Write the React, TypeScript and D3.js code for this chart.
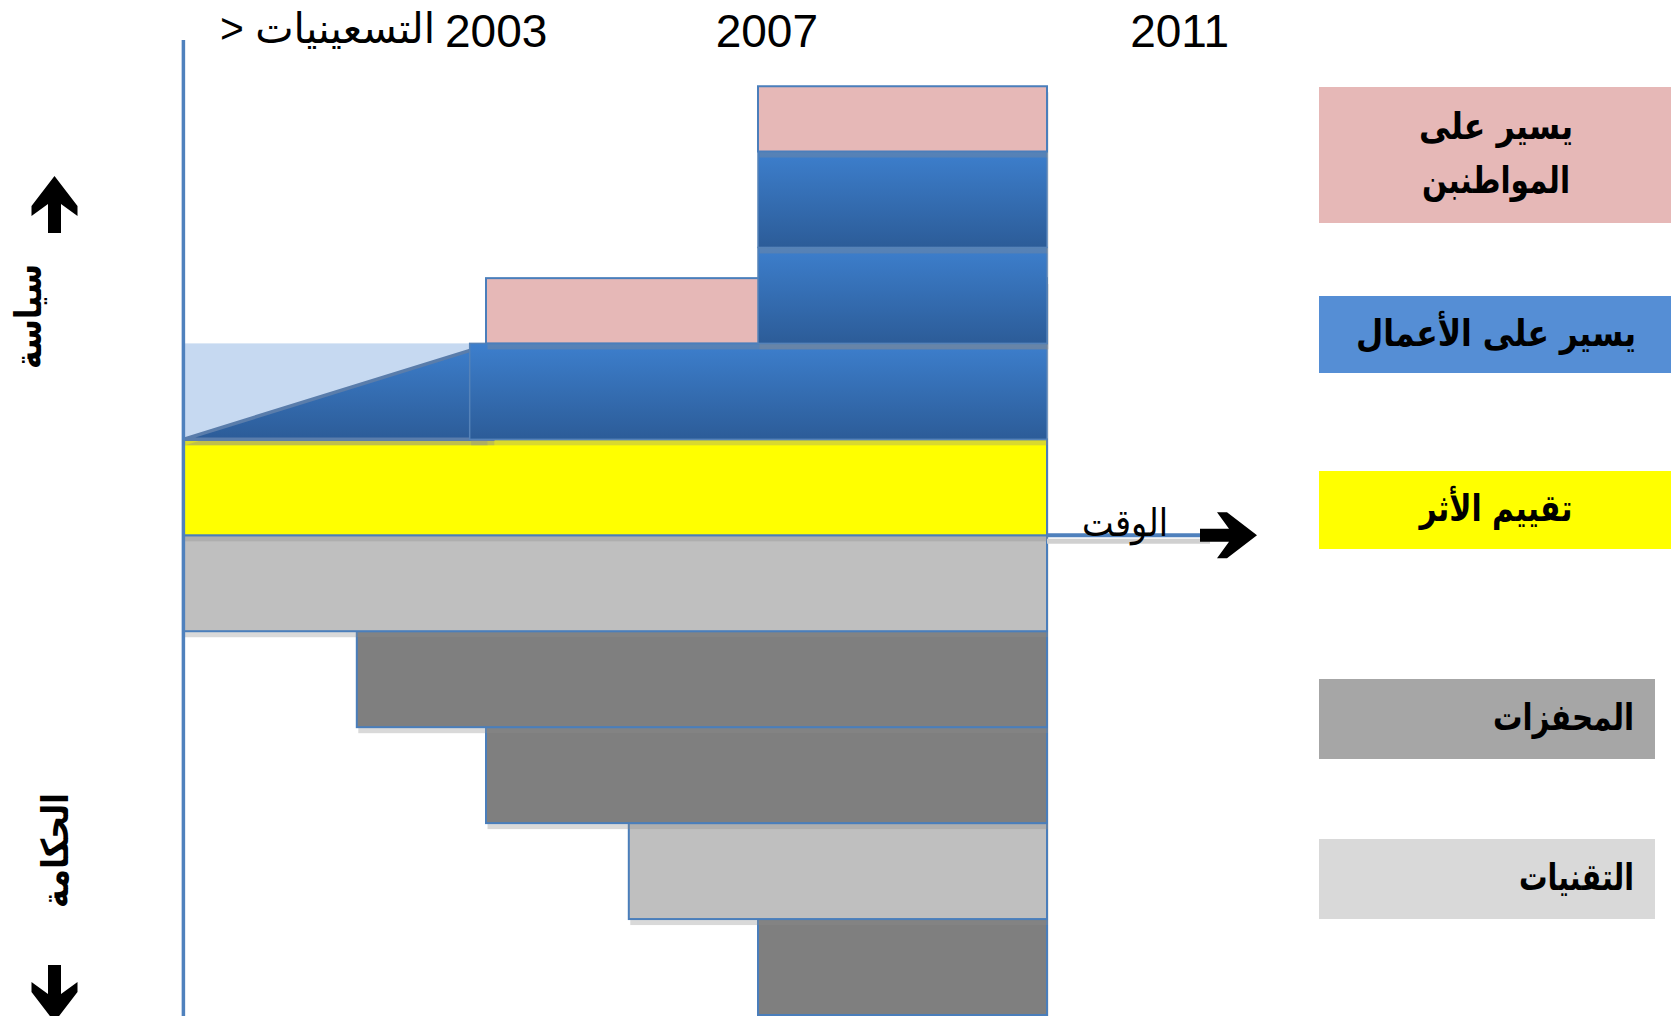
import React from 'react';
import * as d3 from 'd3';

const W = 1674, H = 1016;

// time markers (years)
const periodStart = 1998.55; // the nineties
const periodEnd = 2011.25;
const rampTop = 2003.1;
const timeArrowAt = 2013.5;

const tickLabels = ['2003', '2007', '2011'];
const tickAt = [2003.15, 2007.13, 2013.2];
const ninetiesLabel = '> التسعينيات';
const timeLabel = 'الوقت';
const upLabel = 'سياسة';
const downLabel = 'الحكامة';

// one entry per block: category, rows spanned, start year (all run to periodEnd)
const barType = ['citizens', 'business', 'business', 'citizens', 'business', 'impact', 'techniques', 'incentives', 'incentives', 'techniques', 'incentives'];
const barTop = [-0.68, 0, 1, 1.32, 2, 3, 4, 5, 6, 7, 8];
const barBottom = [0, 1, 2, 2, 3, 4, 5, 6, 7, 8, 9];
const barStart = [2007, 2007, 2007, 2003, 2002.76, periodStart, periodStart, 2001.1, 2003, 2005.1, 2007];

const legendTypes = ['citizens', 'business', 'impact', 'incentives', 'techniques'];
const legendLabels = [['يسير على', 'المواطنبن'], ['يسير على الأعمال'], ['تقييم الأثر'], ['المحفزات'], ['التقنيات']];

const barFill: Record<string, string> = {
  citizens: '#e6b8b7', business: 'url(#blueGrad)', impact: '#ffff00', incentives: '#7f7f7f', techniques: '#bfbfbf',
};
const legendFill: Record<string, string> = {
  citizens: '#e6b8b7', business: '#558ed5', impact: '#ffff00', incentives: '#a6a6a6', techniques: '#d9d9d9',
};

const FONT = "'Liberation Sans', Arial, 'DejaVu Sans', sans-serif";
const ARABIC = "'DejaVu Sans', sans-serif";
const EDGE = '#4a7ebb';
const SHADOW = 'rgba(140,140,140,0.33)';
const ARROW = '0,-6.5 29,-6.5 17,-23 27,-23 57,0 27,23 17,23 29,6.5 0,6.5';

// legend box layout: [x0, y0, x1, y1, anchor], plus text widths per line
const legendBox: [number, number, number, number, string][] = [
  [1319, 87, 1671, 223, 'middle'],
  [1319, 296, 1671, 373, 'middle'],
  [1319, 471, 1671, 549, 'middle'],
  [1319, 679, 1655, 759, 'end'],
  [1319, 839, 1655, 919, 'end'],
];
const legendTextW = [[154, 148], [280], [153], [141], [115]];

export default function App() {
  const x = d3.scaleLinear().domain([2003, 2007]).range([486, 758]);
  const y = d3.scaleLinear().domain([0, 9]).range([151.5, 1015]);

  const bar = (i: number) => {
    const x0 = x(barStart[i]), x1 = x(periodEnd), y0 = y(barTop[i]), y1 = y(barBottom[i]);
    const blue = barType[i] === 'business';
    return (
      <g key={i}>
        <rect x={x0 + 1.5} y={y0 + 6} width={x1 - x0} height={y1 - y0} fill={SHADOW} />
        <rect x={x0} y={y0} width={x1 - x0} height={y1 - y0} fill={barFill[barType[i]]}
          stroke={blue ? '#5582b8' : EDGE} strokeWidth={blue ? 1.5 : 2} />
      </g>
    );
  };

  const lower = barType.map((_, i) => i).filter(i => barBottom[i] > 3).reverse();
  const upper = barType.map((_, i) => i).filter(i => barBottom[i] <= 3).reverse();

  const tri: [number, number][] = [[x(periodStart), y(3)], [x(rampTop), y(2)], [x(rampTop), y(3)]];
  const triPath = d3.line()(tri) + 'Z';
  const triShadow = d3.line()(tri.map(([a, b]) => [a + 1.5, b + 6] as [number, number])) + 'Z';

  const axisY = y(4);

  return (
    <svg width={W} height={H} style={{ position: 'absolute', left: 0, top: 0, background: '#fff' }} fontFamily={FONT}>
      <defs>
        <linearGradient id="blueGrad" x1="0" y1="0" x2="0" y2="1">
          <stop offset="0" stopColor="#3d7fcd" />
          <stop offset="1" stopColor="#2c5c98" />
        </linearGradient>
      </defs>

      {lower.map(bar)}

      {/* nineties ramp */}
      <rect x={x(periodStart) + 1.5} y={y(2) + 6} width={x(2003) - x(periodStart)} height={y(3) - y(2)} fill={SHADOW} />
      <rect x={x(periodStart)} y={y(2)} width={x(2003) - x(periodStart)} height={y(3) - y(2)} fill="#c6d9f1" />
      <path d={triShadow} fill={SHADOW} />
      <path d={triPath} fill="url(#blueGrad)" stroke="#5a7dab" strokeWidth={3.5} />

      {upper.map(bar)}

      {/* time axis */}
      <line x1={x(periodEnd)} x2={x(timeArrowAt) + 10} y1={axisY + 6} y2={axisY + 6} stroke="#d0d0d0" strokeWidth={5} />
      <line x1={x(periodEnd)} x2={x(timeArrowAt) + 10} y1={axisY} y2={axisY} stroke="#4f81bd" strokeWidth={4} />
      <polygon points={ARROW} transform={`translate(${x(timeArrowAt)},${axisY})`} fill="#000" />
      <text x={x(periodEnd) + 35} y={axisY + 1} fontSize={38} fontFamily={ARABIC}
        textLength={86} lengthAdjust="spacingAndGlyphs">{timeLabel}</text>

      {/* vertical axis */}
      <line x1={x(periodStart)} x2={x(periodStart)} y1={40} y2={H} stroke="#4f81bd" strokeWidth={3.5} />

      {/* top labels */}
      {tickLabels.map((t, i) => (
        <text key={t} x={x(tickAt[i])} y={47} textAnchor="middle" fontSize={46}>{t}</text>
      ))}
      <text x={220} y={43} fontSize={42} textLength={215} lengthAdjust="spacingAndGlyphs">{ninetiesLabel}</text>

      {/* left side */}
      <polygon points={ARROW} transform="translate(54.5,233) rotate(-90)" fill="#000" />
      <polygon points={ARROW} transform="translate(54.5,965) rotate(90)" fill="#000" />
      <text transform="translate(41,369) rotate(-90)" fontSize={37} fontWeight="bold" fontFamily={ARABIC}
        textLength={105} lengthAdjust="spacingAndGlyphs">{upLabel}</text>
      <text transform="translate(68,908) rotate(-90)" fontSize={37} fontWeight="bold" fontFamily={ARABIC}
        textLength={115} lengthAdjust="spacingAndGlyphs">{downLabel}</text>

      {/* legend */}
      {legendTypes.map((t, i) => {
        const [x0, y0, x1, y1, anchor] = legendBox[i];
        const lines = legendLabels[i];
        const cy = (y0 + y1) / 2;
        const lh = 54;
        return (
          <g key={t}>
            <rect x={x0} y={y0} width={x1 - x0} height={y1 - y0} fill={legendFill[t]} />
            {lines.map((l, k) => {
              const tw = legendTextW[i][k];
              const left = anchor === 'middle' ? (x0 + x1) / 2 + 1 - tw / 2 : 1634 - tw;
              return (
                <text key={k} x={left} y={cy + (k - (lines.length - 1) / 2) * lh + 11}
                  fontSize={37} fontWeight="bold" fontFamily={ARABIC}
                  textLength={tw} lengthAdjust="spacingAndGlyphs">{l}</text>
              );
            })}
          </g>
        );
      })}
    </svg>
  );
}
